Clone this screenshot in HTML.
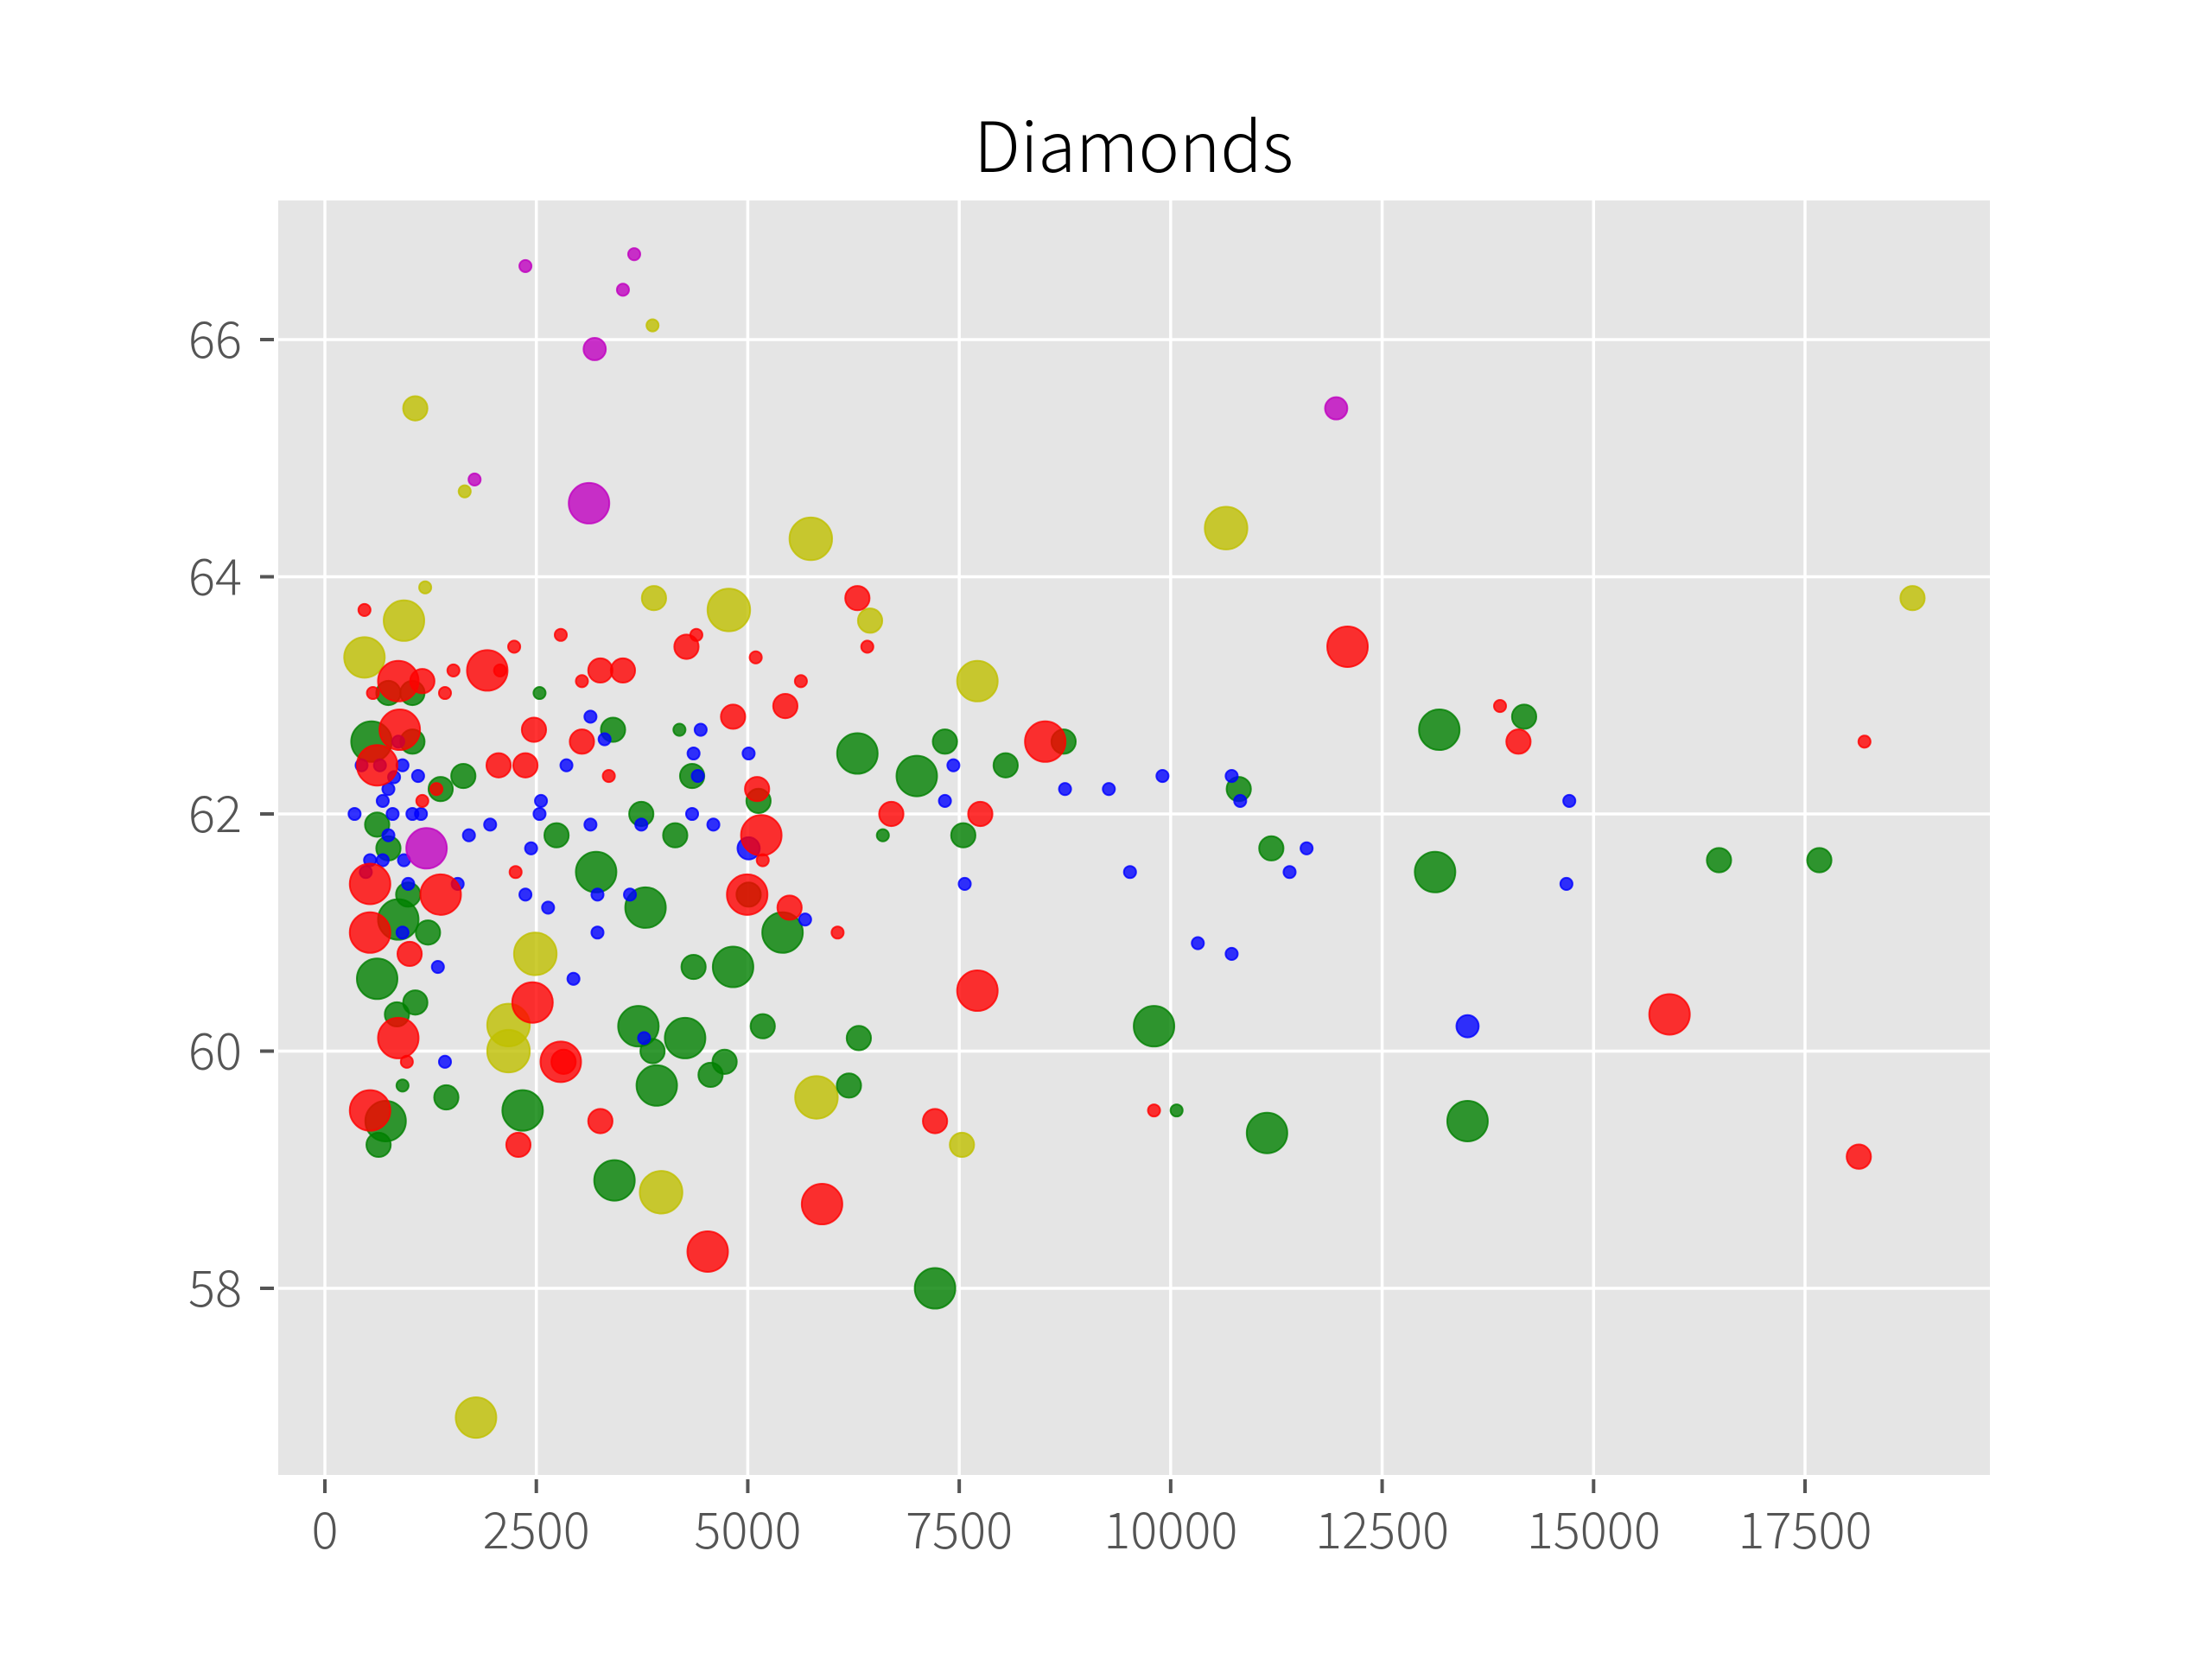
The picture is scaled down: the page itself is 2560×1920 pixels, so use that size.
<!DOCTYPE html>
<html><head><meta charset="utf-8"><style>
html,body{margin:0;padding:0;background:#fff;}
svg{display:block;}
text{font-family:"Noto Sans CJK JP","DejaVu Sans","Liberation Sans",sans-serif;}
</style></head><body>
<svg id="chart" width="2560" height="1920" viewBox="0 0 2560 1920" xmlns="http://www.w3.org/2000/svg">
<rect x="0" y="0" width="2560" height="1920" fill="#fff"/>
<rect x="322" y="232" width="1981" height="1475" fill="#e5e5e5"/>
<g id="grid"></g>
<g id="ticks"></g>
<g id="marks"></g>
<text x="1312" y="199" font-size="80" font-weight="300" text-anchor="middle" fill="#000">Diamonds</text>
</svg>
<script>
const xTicks=[0,2500,5000,7500,10000,12500,15000,17500];
const yTicks=[58,60,62,64,66];
const magX=[2371,3657,3524,3190,11957,1770,3123,1202];
const magY=[66.62,66.72,66.42,65.92,65.42,64.82,64.62,61.71];
const magC=[0.3,0.3,0.3,0.55,0.55,0.3,1.0,1.0];
const yelX=[3874,1069,1653,1186,5745,10655,3891,4776,935,6446,468,7715,18771,2488,2171,2171,5812,7532,3975,1787];
const yelY=[66.12,65.42,64.72,63.91,64.32,64.41,63.82,63.72,63.63,63.63,63.32,63.12,63.82,60.82,60.22,60.0,59.61,59.21,58.81,56.91];
const yelC=[0.3,0.6,0.3,0.3,1.05,1.05,0.6,1.05,1.0,0.6,1.0,1.0,0.6,1.05,1.05,1.05,1.05,0.6,1.05,1.0];
const bluX=[351,434,651,868,918,751,818,684,801,1035,1102,1136,751,684,935,534,484,985,1570,1703,1954,918,1336,1420,2438,2555,2538,2371,2639,2939,2856,3140,3140,3223,3223,3307,3607,3774,3741,4342,4359,4443,4409,4593,5010,5010,5678,7331,7431,7565,8751,9269,9519,9903,10321,10721,10822,10721,11406,11607,13510,14713,14679];
const bluY=[62.0,62.41,62.41,62.61,62.41,62.21,62.31,62.11,62.0,62.0,62.32,62.0,61.82,61.61,61.61,61.61,61.51,61.41,61.41,61.82,61.91,61.0,60.71,59.91,61.71,62.11,62.0,61.32,61.21,60.61,62.41,62.82,61.91,61.32,61.0,62.63,61.32,60.11,61.91,62.0,62.51,62.71,62.32,61.91,62.51,61.71,61.11,62.11,62.41,61.41,62.21,62.21,61.51,62.32,60.91,62.32,62.11,60.82,61.51,61.71,60.21,62.11,61.41];
const bluC=[0.3,0.3,0.3,0.3,0.3,0.3,0.3,0.3,0.3,0.3,0.3,0.3,0.3,0.3,0.3,0.3,0.3,0.3,0.3,0.3,0.3,0.3,0.3,0.3,0.3,0.3,0.3,0.3,0.3,0.3,0.3,0.3,0.3,0.3,0.3,0.3,0.3,0.3,0.3,0.3,0.3,0.3,0.3,0.3,0.3,0.55,0.3,0.3,0.3,0.3,0.3,0.3,0.3,0.3,0.3,0.3,0.3,0.3,0.3,0.3,0.55,0.3,0.3];
const redX=[468,568,1319,1152,1420,1520,2071,2238,2255,2789,3039,3357,4392,5094,5628,5177,6062,6413,969,9803,13894,18203,1152,1002,2054,2371,2472,3039,3257,3524,4275,4826,5110,5444,5494,3257,2288,6296,6697,7749,7214,14112,18136,2822,868,885,618,534,534,868,534,1369,1920,2455,2789,4993,5160,4526,5878,7715,8517,12091,15898];
const redY=[63.72,63.02,62.21,62.11,63.02,63.21,63.21,63.41,61.51,63.51,63.12,62.32,63.51,63.32,63.12,61.61,61.0,63.41,59.91,59.5,62.91,62.61,63.12,60.82,62.41,62.41,62.71,62.61,63.21,63.21,63.41,62.82,62.21,62.91,61.21,59.41,59.21,63.82,62.0,62.0,59.41,62.61,59.11,59.91,63.12,62.71,62.41,61.41,61.0,60.11,59.5,61.32,63.21,60.41,59.91,61.32,61.82,58.31,58.71,60.51,62.61,63.41,60.31];
const redC=[0.3,0.3,0.3,0.3,0.3,0.3,0.3,0.3,0.3,0.3,0.3,0.3,0.3,0.3,0.3,0.3,0.3,0.3,0.3,0.3,0.3,0.3,0.6,0.6,0.6,0.6,0.6,0.6,0.6,0.6,0.6,0.6,0.6,0.6,0.6,0.6,0.6,0.6,0.6,0.6,0.6,0.6,0.6,0.6,1.0,1.0,1.0,1.0,1.0,1.0,1.0,1.0,1.0,1.0,1.0,1.0,1.0,1.0,1.0,1.0,1.0,1.0,1.0];
const grnX=[2538,4192,6597,10070,918,751,1035,1035,618,751,985,1219,1069,852,635,1436,1369,1637,2739,3407,3741,4142,4342,4359,3874,4560,4726,5177,5010,5127,6313,6196,7331,7548,8049,8734,10805,11190,14179,16483,17669,551,618,718,868,3207,3791,3707,3924,3424,2338,4259,4826,5411,6296,6998,7214,9803,11139,13176,13126,13510];
const grnY=[63.02,62.71,61.82,59.5,59.71,63.02,63.02,62.61,61.91,61.71,61.32,61.0,60.41,60.31,59.21,59.61,62.21,62.32,61.82,62.71,62.0,61.82,62.32,60.71,60.0,59.8,59.91,60.21,61.32,62.11,60.11,59.71,62.61,61.82,62.41,62.61,62.21,61.71,62.82,61.61,61.61,62.61,60.61,59.41,61.11,61.51,61.21,60.21,59.71,58.91,59.5,60.11,60.71,61.0,62.51,62.32,58.0,60.21,59.31,62.71,61.51,59.41];
const grnC=[0.3,0.3,0.3,0.3,0.3,0.6,0.6,0.6,0.6,0.6,0.6,0.6,0.6,0.6,0.6,0.6,0.6,0.6,0.6,0.6,0.6,0.6,0.6,0.6,0.6,0.6,0.6,0.6,0.6,0.6,0.6,0.6,0.6,0.6,0.6,0.6,0.6,0.6,0.6,0.6,0.6,1.0,1.0,1.0,1.0,1.0,1.0,1.0,1.0,1.0,1.0,1.0,1.0,1.0,1.0,1.0,1.0,1.0,1.0,1.0,1.0,1.0];

const NS='http://www.w3.org/2000/svg';
const xScale=v=>376+v*(1713/17500);
const yScale=v=>393+(66-v)*137.25;
const rScale=c=>c*23.5;
const grid=document.getElementById('grid'),ticks=document.getElementById('ticks'),marks=document.getElementById('marks');
function mk(tag,parent){const e=document.createElementNS(NS,tag);parent.appendChild(e);return e;}
xTicks.forEach(t=>{
  const x=xScale(t);
  const g=mk('line',grid);
  
  
  g.setAttribute('x1',x);g.setAttribute('x2',x);g.setAttribute('y1',232);g.setAttribute('y2',1707);
  g.setAttribute('stroke','#fff');g.setAttribute('stroke-width',3.5);
  const tk=mk('line',ticks);
  
  
  tk.setAttribute('x1',x);tk.setAttribute('x2',x);tk.setAttribute('y1',1712);tk.setAttribute('y2',1728);
  tk.setAttribute('stroke','#555');tk.setAttribute('stroke-width',4);
  const tx=mk('text',ticks);
  
  
  tx.setAttribute('x',x);tx.setAttribute('y',1792);tx.setAttribute('font-size',58);tx.setAttribute('font-weight','300');
  tx.setAttribute('text-anchor','middle');tx.setAttribute('fill','#555');
  tx.textContent=String(t);
});
yTicks.forEach(t=>{
  const y=yScale(t);
  const g=mk('line',grid);
  
  
  g.setAttribute('x1',322);g.setAttribute('x2',2303);g.setAttribute('y1',y);g.setAttribute('y2',y);
  g.setAttribute('stroke','#fff');g.setAttribute('stroke-width',3.5);
  const tk=mk('line',ticks);
  
  
  tk.setAttribute('x1',301);tk.setAttribute('x2',317);tk.setAttribute('y1',y);tk.setAttribute('y2',y);
  tk.setAttribute('stroke','#555');tk.setAttribute('stroke-width',4);
  const tx=mk('text',ticks);
  
  
  tx.setAttribute('x',280);tx.setAttribute('y',y+21);tx.setAttribute('font-size',58);tx.setAttribute('font-weight','300');
  tx.setAttribute('text-anchor','end');tx.setAttribute('fill','#555');
  tx.textContent=String(t);
});
function series(xs,ys,cs,color,name){
  for(let i=0;i<xs.length;i++){
    const c=mk('circle',marks);
    
    
    c.setAttribute('cx',xScale(xs[i]));c.setAttribute('cy',yScale(ys[i]));c.setAttribute('r',rScale(cs[i]));
    c.setAttribute('fill',color);c.setAttribute('stroke',color);c.setAttribute('stroke-width',2);
    c.setAttribute('fill-opacity',0.8);c.setAttribute('stroke-opacity',0.8);
  }
}
series(yelX,yelY,yelC,'#bfbf00','yellow-point');
series(grnX,grnY,grnC,'#008000','green-point');
series(bluX,bluY,bluC,'#0000ff','blue-point');
series(redX,redY,redC,'#ff0000','red-point');
series(magX,magY,magC,'#bf00bf','magenta-point');
</script>
</body></html>
